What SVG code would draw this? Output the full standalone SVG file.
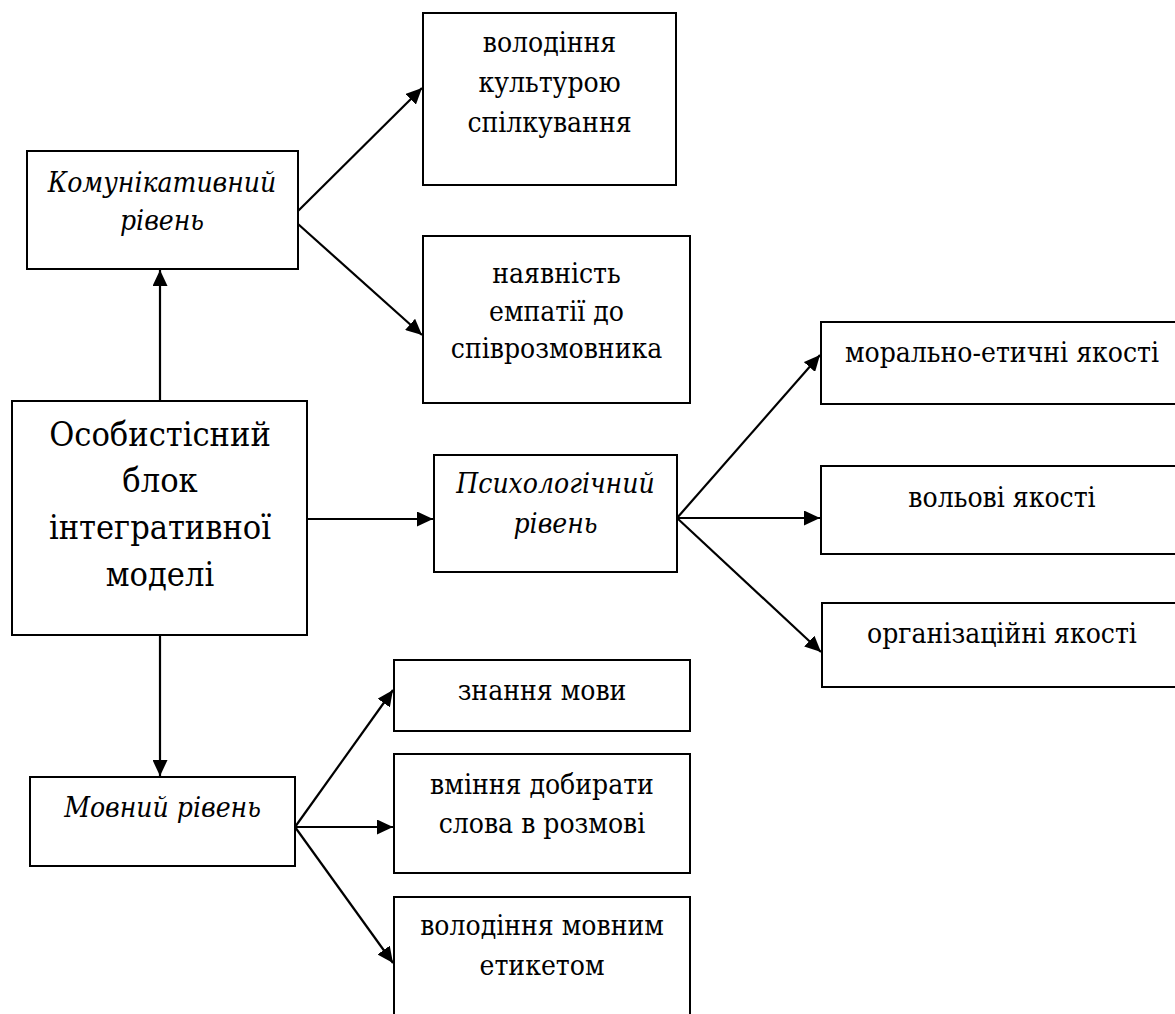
<svg xmlns="http://www.w3.org/2000/svg" width="1175" height="1014" viewBox="0 0 1175 1014">
  <style>
    .box { fill: #ffffff; stroke: #000000; stroke-width: 2; }
    .edge { fill: none; stroke: #000000; stroke-width: 2.2; marker-end: url(#arrow); }
    text { font-family: 'DejaVu Serif', 'Liberation Serif', serif; font-stretch: condensed; fill: #000000; text-anchor: middle; }
    .t { font-size: 28px; }
    .it { font-size: 28px; font-style: italic; }
    .big { font-size: 34px; }
  </style>
  <defs>
    <marker id="arrow" markerUnits="userSpaceOnUse" markerWidth="17" markerHeight="15" refX="16" refY="7.5" orient="auto">
      <path d="M0,0 L16,7.5 L0,15 z" fill="#000000"/>
    </marker>
  </defs>

  <rect width="1175" height="1014" fill="#ffffff"/>

  <!-- connectors -->
  <g id="connectors">
    <line class="edge" x1="160" y1="401" x2="160" y2="270"/>
    <line class="edge" x1="160" y1="635" x2="160" y2="776"/>
    <line class="edge" x1="307" y1="519" x2="433" y2="519"/>
    <line class="edge" x1="298" y1="211" x2="422" y2="88"/>
    <line class="edge" x1="298" y1="224" x2="422" y2="335"/>
    <line class="edge" x1="677" y1="518" x2="820" y2="355"/>
    <line class="edge" x1="677" y1="518" x2="820" y2="518"/>
    <line class="edge" x1="677" y1="518" x2="821" y2="652"/>
    <line class="edge" x1="295" y1="827" x2="393" y2="690"/>
    <line class="edge" x1="295" y1="827" x2="393" y2="827"/>
    <line class="edge" x1="295" y1="827" x2="393" y2="963"/>
  </g>

  <!-- central block -->
  <g id="node-core">
    <rect class="box" x="12" y="401" width="295" height="234"/>
    <text class="big" x="160" y="446">Особистісний</text>
    <text class="big" x="160" y="492">блок</text>
    <text class="big" x="160" y="539">інтегративної</text>
    <text class="big" x="160" y="586">моделі</text>
  </g>

  <!-- communicative level -->
  <g id="node-communicative">
    <rect class="box" x="27" y="151" width="271" height="118"/>
    <text class="it" x="162" y="192">Комунікативний</text>
    <text class="it" x="162" y="230">рівень</text>
  </g>
  <g id="node-culture">
    <rect class="box" x="423" y="13" width="253" height="172"/>
    <text class="t" x="549.5" y="52">володіння</text>
    <text class="t" x="549.5" y="92">культурою</text>
    <text class="t" x="549.5" y="132">спілкування</text>
  </g>
  <g id="node-empathy">
    <rect class="box" x="423" y="236" width="267" height="167"/>
    <text class="t" x="556.5" y="283">наявність</text>
    <text class="t" x="556.5" y="321">емпатії до</text>
    <text class="t" x="556.5" y="358">співрозмовника</text>
  </g>

  <!-- psychological level -->
  <g id="node-psychological">
    <rect class="box" x="434" y="455" width="243" height="117"/>
    <text class="it" x="555.5" y="493">Психологічний</text>
    <text class="it" x="555.5" y="533">рівень</text>
  </g>
  <g id="node-moral">
    <rect class="box" x="821" y="322" width="362" height="82"/>
    <text class="t" x="1002" y="362">морально-етичні якості</text>
  </g>
  <g id="node-volitional">
    <rect class="box" x="821" y="466" width="362" height="88"/>
    <text class="t" x="1002" y="507">вольові якості</text>
  </g>
  <g id="node-organizational">
    <rect class="box" x="822" y="603" width="361" height="84"/>
    <text class="t" x="1002" y="643">організаційні якості</text>
  </g>

  <!-- language level -->
  <g id="node-language">
    <rect class="box" x="30" y="777" width="265" height="89"/>
    <text class="it" x="162.5" y="817">Мовний рівень</text>
  </g>
  <g id="node-knowledge">
    <rect class="box" x="394" y="660" width="296" height="71"/>
    <text class="t" x="542" y="700">знання мови</text>
  </g>
  <g id="node-words">
    <rect class="box" x="394" y="754" width="296" height="119"/>
    <text class="t" x="542" y="794">вміння добирати</text>
    <text class="t" x="542" y="833">слова в розмові</text>
  </g>
  <g id="node-etiquette">
    <rect class="box" x="394" y="897" width="296" height="130"/>
    <text class="t" x="542" y="935">володіння мовним</text>
    <text class="t" x="542" y="975">етикетом</text>
  </g>
</svg>
